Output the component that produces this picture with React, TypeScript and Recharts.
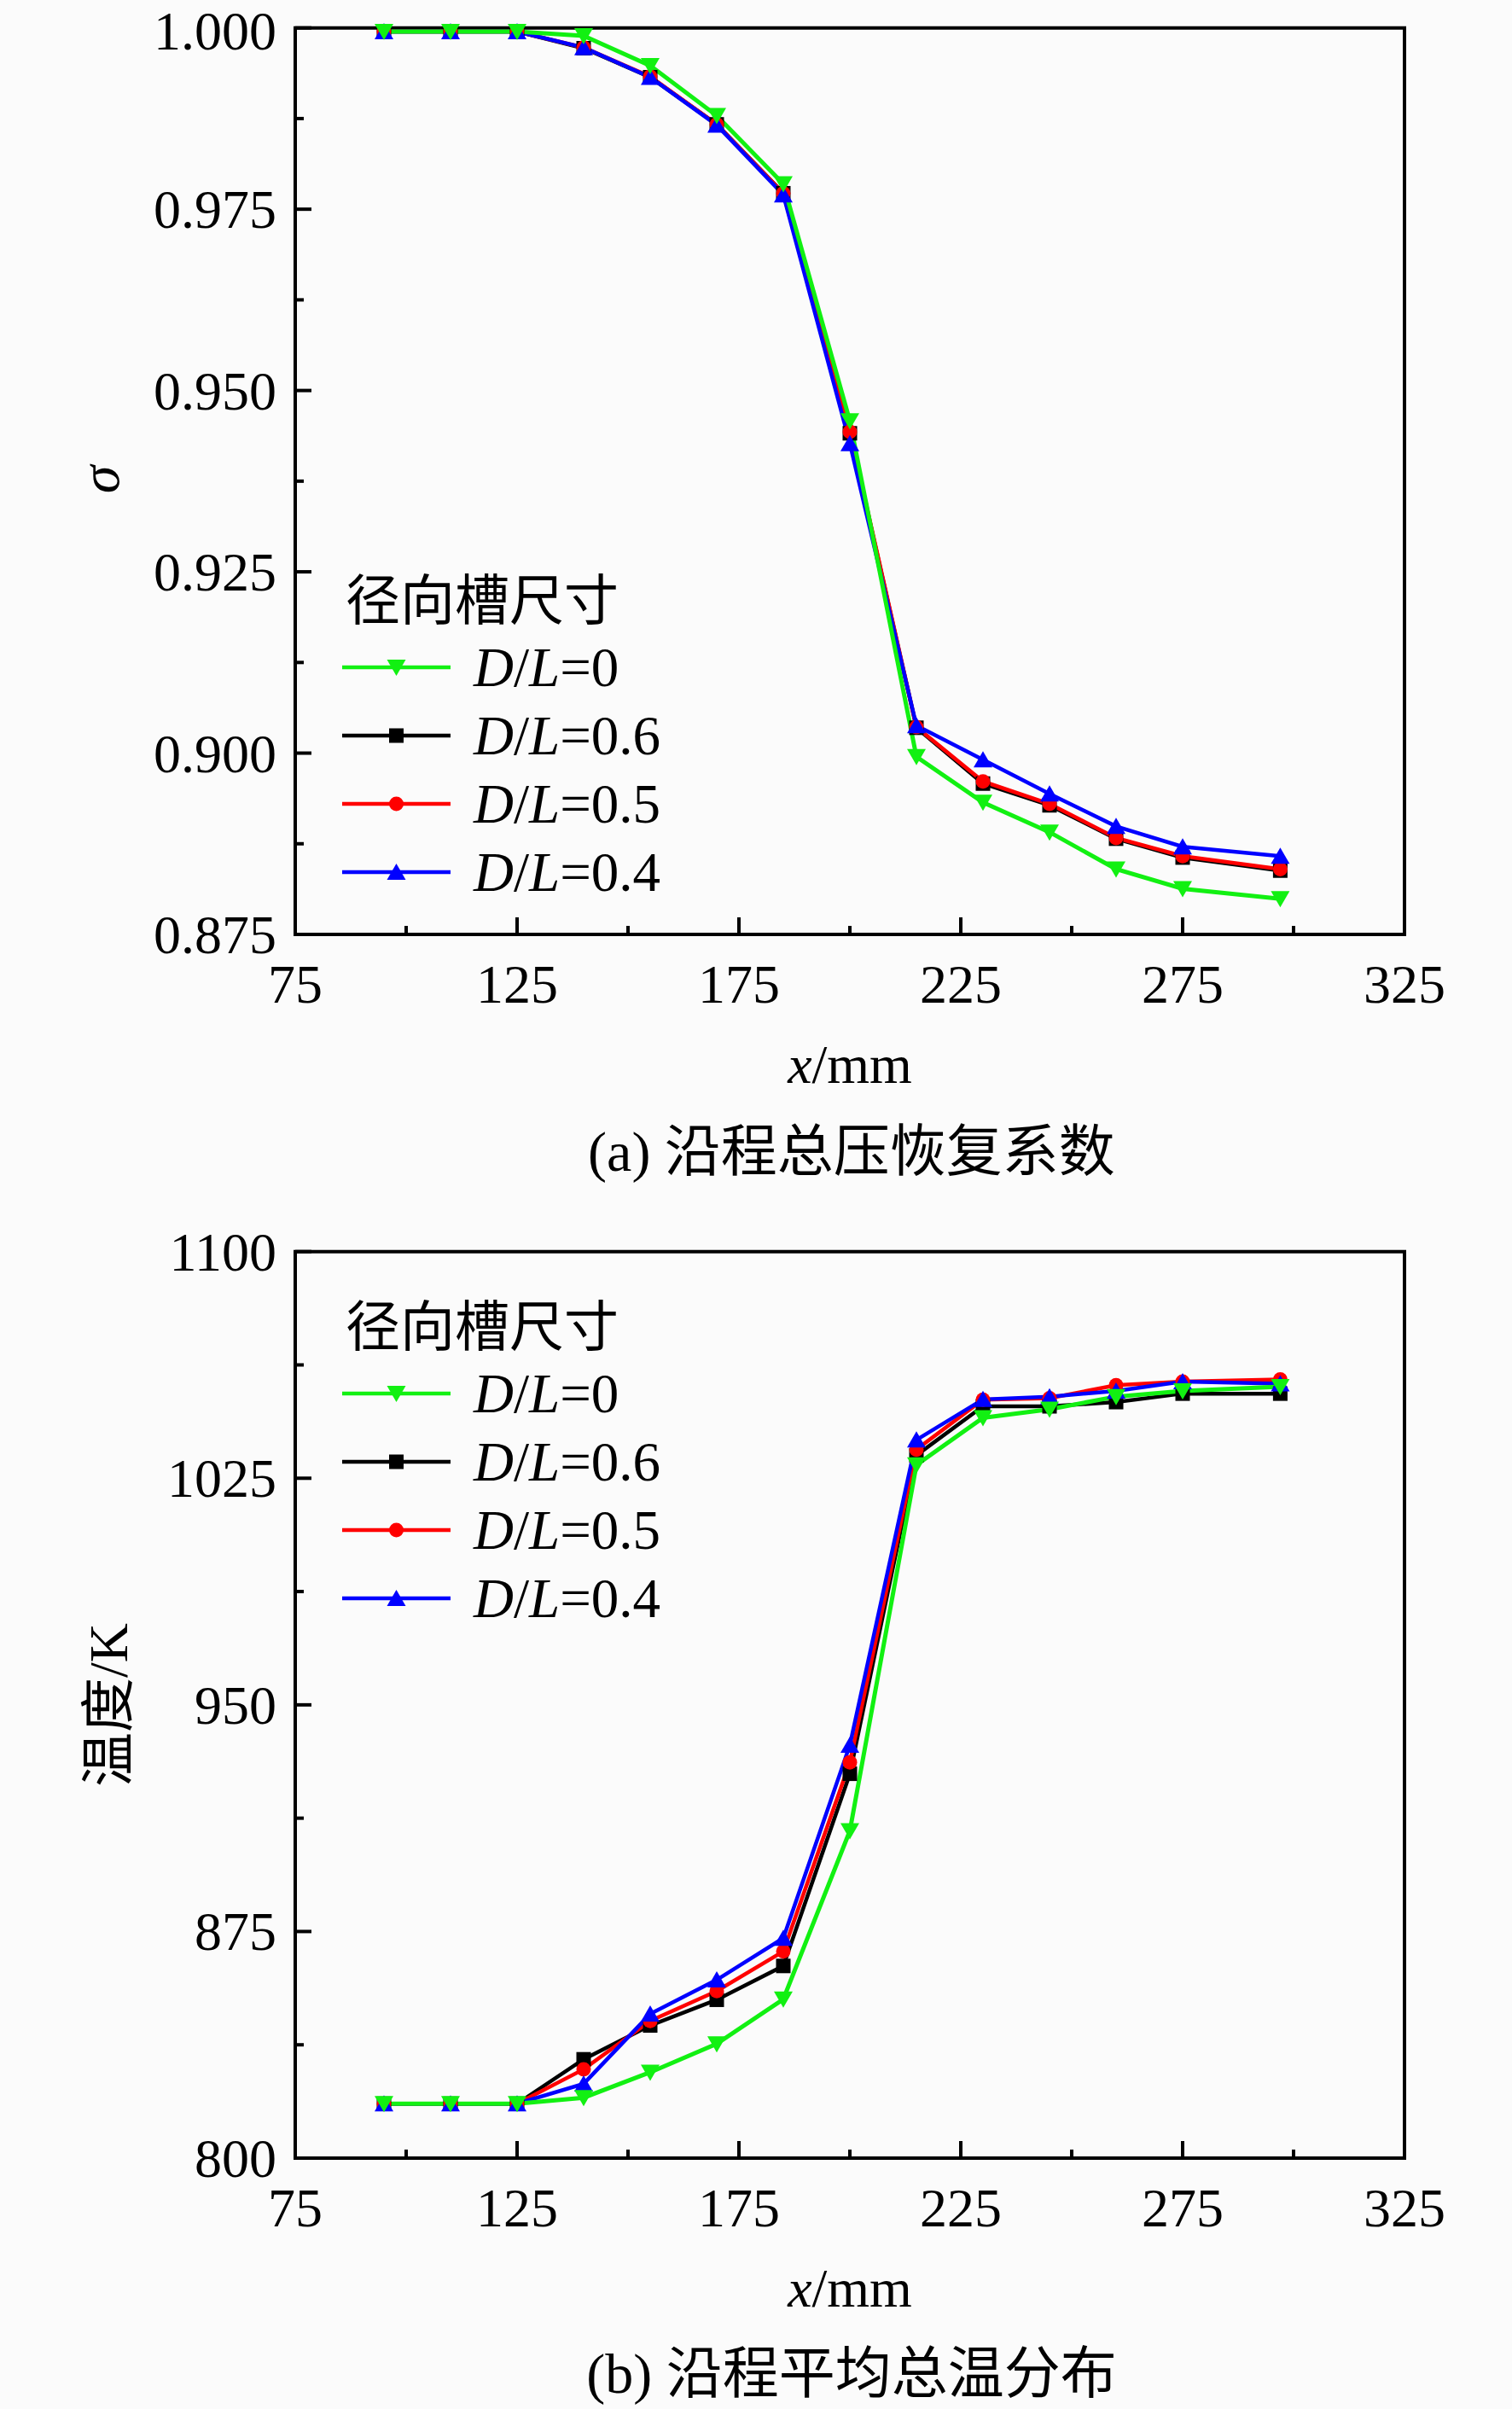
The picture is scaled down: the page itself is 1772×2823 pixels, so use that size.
import React from "react";
import { LineChart, Line, XAxis, YAxis, ReferenceArea, Legend } from "recharts";

// measuring stations along the duct (mm)
const xPos = [95, 110, 125, 140, 155, 170, 185, 200, 215, 230, 245, 260, 275, 297];

// (a) total pressure recovery coefficient
const sigmaDL0 = [0.9995, 0.9995, 0.9995, 0.9989, 0.9948, 0.9879, 0.9785, 0.9458, 0.8995, 0.8932, 0.8891, 0.884, 0.8813, 0.8799];
const sigmaDL06 = [0.9995, 0.9995, 0.9995, 0.9972, 0.9932, 0.9867, 0.9772, 0.9441, 0.9035, 0.8958, 0.8928, 0.8882, 0.8856, 0.8838];
const sigmaDL05 = [0.9995, 0.9995, 0.9995, 0.9973, 0.9933, 0.9867, 0.9772, 0.9443, 0.9036, 0.8961, 0.893, 0.8883, 0.8858, 0.884];
const sigmaDL04 = [0.9995, 0.9995, 0.9995, 0.9973, 0.9932, 0.9866, 0.977, 0.9427, 0.9038, 0.8991, 0.8944, 0.8899, 0.8871, 0.8858];

// (b) mean total temperature (K)
const tempDL0 = [818, 818, 818, 820, 828.4, 837.8, 852.6, 908.3, 1029.4, 1045, 1047.8, 1052, 1053.9, 1055.3];
const tempDL06 = [818, 818, 818, 832.7, 843.9, 852.4, 863.6, 927.2, 1032.6, 1048.8, 1048.8, 1050.2, 1053, 1053];
const tempDL05 = [818, 818, 818, 829.4, 845.4, 855.3, 868.4, 931, 1034.5, 1051, 1051.5, 1055.8, 1057, 1057.7];
const tempDL04 = [818, 818, 818, 824.6, 847.7, 859, 872.8, 936.7, 1037.7, 1051.1, 1052, 1053.9, 1057, 1056.3];

const xTicks = [75, 100, 125, 150, 175, 200, 225, 250, 275, 300, 325];
const xMajor = [75, 125, 175, 225, 275, 325];
const sigmaTicks = [0.875, 0.8875, 0.9, 0.9125, 0.925, 0.9375, 0.95, 0.9625, 0.975, 0.9875, 1];
const sigmaMajor = [0.875, 0.9, 0.925, 0.95, 0.975, 1];
const tempTicks = [800, 837.5, 875, 912.5, 950, 987.5, 1025, 1062.5, 1100];
const tempMajor = [800, 875, 950, 1025, 1100];

const legendTitle = "径向槽尺寸";
const seriesKeys = ["dl06", "dl05", "dl04", "dl0"]; // draw order
const legendKeys = ["dl0", "dl06", "dl05", "dl04"]; // legend order
const seriesNames: Record<string, string> = { dl0: "0", dl06: "0.6", dl05: "0.5", dl04: "0.4" };
const seriesColors: Record<string, string> = { dl0: "#12f012", dl06: "#000000", dl05: "#ff0000", dl04: "#0000ff" };
const seriesShapes: Record<string, string> = { dl0: "down", dl06: "square", dl05: "circle", dl04: "up" };

const FONT = '"Liberation Serif", "Times New Roman", "Noto Sans CJK SC", serif';
const PAD = 60; // extra room above the plot so the top tick label is not clipped

const sigmaRows = xPos.map((x, i) => ({ x, dl0: sigmaDL0[i], dl06: sigmaDL06[i], dl05: sigmaDL05[i], dl04: sigmaDL04[i] }));
const tempRows = xPos.map((x, i) => ({ x, dl0: tempDL0[i], dl06: tempDL06[i], dl05: tempDL05[i], dl04: tempDL04[i] }));

function Marker({ shape, cx, cy, color }: any) {
  if (cx == null || cy == null) return null;
  if (shape === "down")
    return <polygon points={`${cx - 11},${cy - 9} ${cx + 11},${cy - 9} ${cx},${cy + 10}`} fill={color} />;
  if (shape === "up")
    return <polygon points={`${cx - 11},${cy + 9} ${cx + 11},${cy + 9} ${cx},${cy - 10}`} fill={color} />;
  if (shape === "square") return <rect x={cx - 8.5} y={cy - 8.5} width={17} height={17} fill={color} />;
  return <circle cx={cx} cy={cy} r={8.5} fill={color} />;
}

const isIn = (list: number[], v: number) => list.some((m) => Math.abs(m - v) < 1e-9);

const makeYTick = (major: number[], digits: number, top: number) => (props: any) => {
  const { x, y, payload } = props;
  const big = isIn(major, payload.value);
  // the topmost label sits at the page edge; nudge it down a little
  const dy = Math.abs(payload.value - top) < 1e-9 ? 25 : 22;
  return (
    <g>
      <line x1={x} x2={x + (big ? 19 : 10)} y1={y} y2={y} stroke="#000" strokeWidth={4} />
      {big && (
        <text x={x - 22} y={y} dy={dy} textAnchor="end" fontSize={64} fontFamily={FONT} fill="#000">
          {payload.value.toFixed(digits)}
        </text>
      )}
    </g>
  );
};

const renderXTick = (props: any) => {
  const { x, y, payload } = props;
  const big = isIn(xMajor, payload.value);
  return (
    <g>
      <line x1={x} x2={x} y1={y} y2={y - (big ? 20 : 10)} stroke="#000" strokeWidth={4} />
      {big && (
        <text x={x} y={y + 80} textAnchor="middle" fontSize={64} fontFamily={FONT} fill="#000">
          {payload.value}
        </text>
      )}
    </g>
  );
};

const renderLegend = (props: any) => {
  const items = legendKeys.map((k) => (props.payload || []).find((p: any) => p.dataKey === k)).filter(Boolean);
  return (
    <svg width={460} height={420} style={{ display: "block", overflow: "visible" }}>
      <text x={15} y={74} fontSize={64} fontFamily={FONT} fill="#000">
        {legendTitle}
      </text>
      {items.map((it: any, i: number) => {
        const key = it.dataKey as string;
        const cy = 50 + 80 * (i + 1);
        return (
          <g key={key}>
            <line x1={11} x2={138} y1={cy} y2={cy} stroke={seriesColors[key]} strokeWidth={4.5} />
            <Marker shape={seriesShapes[key]} cx={74.5} cy={cy} color={seriesColors[key]} />
            <text x={165} y={cy} dy={22} fontSize={65} fontFamily={FONT} fill="#000">
              <tspan fontStyle="italic">D</tspan>/<tspan fontStyle="italic">L</tspan>={seriesNames[key]}
            </text>
          </g>
        );
      })}
    </svg>
  );
};

function Panel({ rows, yDomain, yTicks, yMajor, digits, legendTop, topNudge }: any) {
  return (
    <LineChart width={1772} height={1200 + PAD} data={rows} margin={{ top: 32.7 + PAD, right: 126, bottom: 5, left: 146 }}>
      <XAxis
        dataKey="x"
        type="number"
        domain={[75, 325]}
        ticks={xTicks}
        interval={0}
        height={100}
        tickSize={0}
        tickMargin={0}
        tickLine={false}
        axisLine={false}
        tick={renderXTick}
      />
      <YAxis
        type="number"
        domain={yDomain}
        ticks={yTicks}
        interval={0}
        width={200}
        tickSize={0}
        tickMargin={0}
        tickLine={false}
        axisLine={false}
        tick={makeYTick(yMajor, digits, topNudge ? yDomain[1] : NaN)}
      />
      <ReferenceArea x1={75} x2={325} y1={yDomain[0]} y2={yDomain[1]} fill="none" stroke="#000" strokeWidth={4} />
      {seriesKeys.map((k) => (
        <Line
          key={k}
          dataKey={k}
          name={`D/L=${seriesNames[k]}`}
          type="linear"
          stroke={seriesColors[k]}
          strokeWidth={k === "dl0" ? 5 : 4.5}
          isAnimationActive={false}
          activeDot={false}
          dot={(p: any) => <Marker key={`${k}-${p.index}`} shape={seriesShapes[k]} cx={p.cx} cy={p.cy} color={seriesColors[k]} />}
        />
      ))}
      <Legend
        layout="vertical"
        align="center"
        verticalAlign="middle"
        content={renderLegend}
        wrapperStyle={{ left: 390, top: legendTop - 50 + PAD, width: 460, height: 420 }}
      />
    </LineChart>
  );
}

const textStyle = (left: number, top: number, size: number, rotate = 0): React.CSSProperties => ({
  position: "absolute",
  left,
  top,
  transform: `translate(-50%, -50%) rotate(${rotate}deg)`,
  fontFamily: FONT,
  fontSize: size,
  lineHeight: 1,
  whiteSpace: "nowrap",
  color: "#000",
});

export default function App() {
  return (
    <div style={{ position: "absolute", left: 0, top: 0, width: 1772, height: 2823, background: "#fbfbfb", overflow: "hidden" }}>
      <div style={{ position: "absolute", left: 0, top: -PAD }}>
        <Panel rows={sigmaRows} yDomain={[0.875, 1]} yTicks={sigmaTicks} yMajor={sigmaMajor} digits={3} legendTop={702} topNudge />
      </div>
      <div style={{ position: "absolute", left: 0, top: 1434.2 - PAD }}>
        <Panel rows={tempRows} yDomain={[800, 1100]} yTicks={tempTicks} yMajor={tempMajor} digits={0} legendTop={119} />
      </div>

      <div style={textStyle(117, 562, 66, -90)}>
        <i>σ</i>
      </div>
      <div style={textStyle(996, 1248, 64)}>
        <i>x</i>/mm
      </div>
      <div style={textStyle(998, 1350, 66)}>(a) 沿程总压恢复系数</div>

      <div style={textStyle(128, 1998, 64, -90)}>温度/K</div>
      <div style={textStyle(996, 2682, 64)}>
        <i>x</i>/mm
      </div>
      <div style={textStyle(998, 2782, 66)}>(b) 沿程平均总温分布</div>
    </div>
  );
}
